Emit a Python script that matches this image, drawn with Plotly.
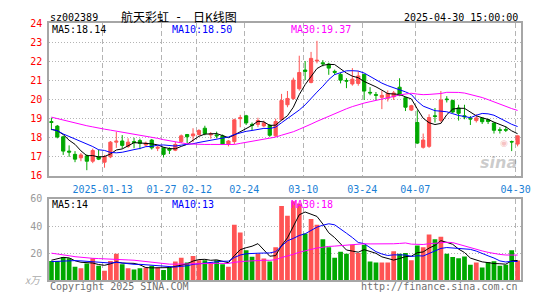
import numpy as np
import plotly.graph_objects as go

# ---------------- data ----------------
dates = ["2024-12-30", "2024-12-31",
         "2025-01-02", "2025-01-03", "2025-01-06", "2025-01-07", "2025-01-08", "2025-01-09", "2025-01-10",
         "2025-01-13", "2025-01-14", "2025-01-15", "2025-01-16", "2025-01-17", "2025-01-20", "2025-01-21",
         "2025-01-22", "2025-01-23", "2025-01-24", "2025-01-27",
         "2025-02-05", "2025-02-06", "2025-02-07", "2025-02-10", "2025-02-11", "2025-02-12", "2025-02-13",
         "2025-02-14", "2025-02-17", "2025-02-18", "2025-02-19", "2025-02-20", "2025-02-21", "2025-02-24",
         "2025-02-25", "2025-02-26", "2025-02-27", "2025-02-28",
         "2025-03-03", "2025-03-04", "2025-03-05", "2025-03-06", "2025-03-07", "2025-03-10", "2025-03-11",
         "2025-03-12", "2025-03-13", "2025-03-14", "2025-03-17", "2025-03-18", "2025-03-19", "2025-03-20",
         "2025-03-21", "2025-03-24", "2025-03-25", "2025-03-26", "2025-03-27", "2025-03-28", "2025-03-31",
         "2025-04-01", "2025-04-02", "2025-04-03", "2025-04-07", "2025-04-08", "2025-04-09", "2025-04-10",
         "2025-04-11", "2025-04-14", "2025-04-15", "2025-04-16", "2025-04-17", "2025-04-18", "2025-04-21",
         "2025-04-22", "2025-04-23", "2025-04-24", "2025-04-25", "2025-04-28", "2025-04-29", "2025-04-30"]

opens = [18.85, 18.61, 18.05, 17.30, 17.13, 16.95, 17.05, 16.77, 17.00, 16.72,
         17.00, 17.77, 17.83, 17.55, 17.80, 17.85, 17.62, 17.88, 17.45, 17.47,
         17.42, 17.35, 17.80, 18.17, 18.10, 18.17, 18.50, 18.15, 18.15, 18.10,
         17.67, 17.80, 19.00, 19.15, 18.70, 18.70, 18.62, 18.65, 18.10, 18.95,
         19.73, 20.06, 20.57, 21.55, 20.90, 22.02, 21.93, 21.86, 21.48, 21.32,
         21.00, 20.82, 20.85, 21.32, 20.38, 20.26, 20.12, 20.07, 20.15, 20.65,
         20.10, 19.45, 18.80, 17.50, 17.55, 19.15, 18.90, 20.03, 19.95, 19.56,
         19.15, 19.01, 18.90, 19.03, 18.95, 18.77, 18.42, 18.43, 17.80, 17.67]
highs = [19.05, 18.67, 18.10, 17.60, 17.30, 17.20, 17.13, 17.43, 17.38, 17.10,
         17.83, 18.30, 18.14, 17.97, 18.00, 17.95, 17.80, 17.93, 17.58, 17.50,
         17.50, 17.78, 18.17, 18.20, 18.50, 18.45, 18.63, 18.30, 18.32, 18.17,
         17.88, 19.00, 19.20, 19.20, 18.80, 19.05, 18.90, 18.72, 19.00, 20.30,
         20.45, 21.15, 22.30, 22.02, 22.50, 23.08, 22.07, 21.93, 21.57, 21.39,
         21.12, 21.65, 21.49, 21.35, 20.65, 20.40, 20.48, 20.48, 20.45, 21.12,
         20.15, 19.73, 19.44, 18.22, 19.23, 19.56, 20.45, 20.18, 20.00, 19.73,
         19.73, 19.14, 19.23, 19.05, 19.00, 18.80, 18.55, 18.60, 17.85, 18.12]
lows = [18.40, 17.97, 17.10, 17.00, 16.72, 16.77, 16.30, 16.67, 16.83, 16.43,
        16.93, 17.47, 17.43, 17.47, 17.45, 17.40, 17.55, 17.38, 17.30, 16.97,
        17.15, 17.30, 17.72, 17.72, 17.77, 18.12, 18.13, 17.95, 17.97, 17.63,
        17.55, 17.67, 18.55, 18.67, 18.40, 18.55, 18.55, 18.05, 18.05, 18.90,
        19.60, 19.98, 20.47, 21.02, 20.85, 21.90, 21.74, 21.30, 21.29, 20.85,
        20.60, 20.73, 20.73, 19.98, 20.23, 19.98, 19.50, 19.90, 19.98, 20.18,
        19.40, 19.40, 17.67, 17.43, 17.47, 18.80, 18.80, 19.85, 19.28, 18.90,
        18.97, 18.67, 18.80, 18.72, 18.72, 18.22, 18.22, 18.30, 17.30, 17.55]
closes = [18.80, 18.04, 17.30, 17.25, 16.88, 17.10, 16.77, 17.33, 16.88, 17.00,
          17.77, 17.82, 17.60, 17.77, 17.75, 17.70, 17.72, 17.47, 17.50, 17.13,
          17.35, 17.65, 18.10, 18.05, 18.20, 18.38, 18.22, 18.20, 18.10, 17.67,
          17.83, 18.94, 19.05, 18.78, 18.65, 18.90, 18.78, 18.13, 18.85, 19.95,
          20.06, 21.02, 21.42, 21.48, 22.16, 22.06, 21.88, 21.65, 21.43, 21.02,
          20.97, 21.07, 21.24, 20.45, 20.35, 20.23, 20.22, 20.32, 20.35, 20.23,
          19.60, 19.68, 17.72, 17.88, 19.06, 19.12, 19.98, 20.00, 19.35, 19.28,
          19.10, 18.98, 19.04, 18.84, 18.85, 18.39, 18.39, 18.40, 17.78, 18.10]
volumes = [14.3, 14.3, 17.1, 16.2, 10.0, 8.8, 12.4, 16.2, 10.7, 7.1,
           14.3, 19.5, 11.9, 8.8, 7.9, 8.8, 9.5, 10.7, 9.5, 7.6,
           9.5, 13.8, 16.7, 13.1, 17.9, 14.8, 14.8, 13.1, 14.8, 11.9,
           10.0, 40.9, 35.2, 22.1, 17.4, 19.5, 16.0, 13.8, 24.3, 54.8,
           47.6, 58.3, 56.7, 34.5, 45.2, 40.9, 30.2, 24.3, 16.7, 21.0,
           19.5, 26.2, 20.2, 26.2, 13.8, 13.1, 13.1, 13.1, 21.4, 19.5,
           20.2, 14.8, 25.7, 24.3, 33.8, 30.2, 32.1, 19.5, 17.1, 16.2,
           17.6, 11.5, 13.2, 9.4, 13.5, 14.1, 10.8, 11.5, 22.1, 14.6]

# moving-average values visible before enough bars exist in the window
ma5_lead = [18.44, 18.37, 18.17, 17.87]
ma10_lead = [18.44, 18.37, 18.20, 18.07, 17.95, 17.84, 17.70, 17.54, 17.37]
ma30_lead = [19.08, 19.00, 18.93, 18.85, 18.78, 18.70, 18.63, 18.57, 18.50, 18.45,
             18.40, 18.35, 18.30, 18.25, 18.20, 18.15, 18.09, 18.02, 17.97, 17.90,
             17.84, 17.77, 17.72, 17.68, 17.67, 17.65, 17.65, 17.65, 17.65]
vma5_lead = [14.8, 16.0, 16.9, 16.5]
vma10_lead = [13.8, 14.0, 14.3, 14.5, 14.5, 14.3, 14.0, 13.6, 13.3]
vma30_lead = [20.0, 19.5, 19.0, 18.1, 17.4, 16.9, 16.7, 16.2, 16.0, 15.7,
              15.7, 15.5, 15.2, 15.0, 14.8, 14.3, 13.8, 13.3, 12.4, 11.9,
              11.9, 11.9, 11.9, 12.0, 12.1, 12.2, 12.3, 12.4, 12.5]

tick_dates = ["2025-01-13", "2025-01-27", "2025-02-12", "2025-02-24",
              "2025-03-10", "2025-03-24", "2025-04-07", "2025-04-30"]
tick_labels = ["2025-01-13", "01-27", "02-12", "02-24", "03-10", "03-24", "04-07", "04-30"]
price_ticks = [16, 17, 18, 19, 20, 21, 22, 23, 24]
vol_ticks = [20, 40, 60]

# ---------------- helpers ----------------
def moving_avg(vals, n, lead):
    v = np.asarray(vals, float)
    out = np.empty(len(v))
    out[:n - 1] = lead
    out[n - 1:] = np.convolve(v, np.ones(n) / n, mode="valid")
    return out

ma5 = moving_avg(closes, 5, ma5_lead)
ma10 = moving_avg(closes, 10, ma10_lead)
ma30 = moving_avg(closes, 30, ma30_lead)
vma5 = moving_avg(volumes, 5, vma5_lead)
vma10 = moving_avg(volumes, 10, vma10_lead)
vma30 = moving_avg(volumes, 30, vma30_lead)

W, H = 545, 300
L, R = 50, 530
MT, MB = 18, 177
VT, VB = 201, 285.7

def px(v):
    return v / W

def py(v):
    return 1 - v / H

RED = "#ff5454"
GREEN = "#00a800"
BLUE = "#0000ff"
MAG = "#ff00ff"
GRID = "#b4b4b4"
BORDER = "#a6a6a6"
MONO = "DejaVu Sans Mono"
CJK = "Noto Sans CJK SC"

x = np.arange(len(dates))
tickpos = [dates.index(d) - 0.33 for d in tick_dates]
xr = [-0.38, len(dates) - 0.38]

fig = go.Figure()
fig.add_trace(go.Candlestick(
    x=x, open=opens, high=highs, low=lows, close=closes,
    increasing=dict(line=dict(color=RED, width=1), fillcolor=RED),
    decreasing=dict(line=dict(color=GREEN, width=1), fillcolor=GREEN),
    whiskerwidth=0, hoverinfo="skip", xaxis="x", yaxis="y"))
for arr, col in [(ma5, "black"), (ma10, BLUE), (ma30, MAG)]:
    fig.add_trace(go.Scatter(x=x, y=arr, mode="lines", line=dict(color=col, width=1),
                             hoverinfo="skip", xaxis="x", yaxis="y"))

vol_colors = [RED if c > o else GREEN for o, c in zip(opens, closes)]
fig.add_trace(go.Bar(x=x, y=volumes, width=0.8,
                     marker=dict(color=vol_colors, line=dict(width=0)),
                     hoverinfo="skip", xaxis="x2", yaxis="y2"))
for arr, col in [(vma5, "black"), (vma10, BLUE), (vma30, MAG)]:
    fig.add_trace(go.Scatter(x=x, y=arr, mode="lines", line=dict(color=col, width=1),
                             hoverinfo="skip", xaxis="x2", yaxis="y2"))

axis_common = dict(showline=True, mirror=True, linecolor=BORDER, linewidth=2,
                   zeroline=False, ticks="", fixedrange=True)

fig.update_layout(
    width=W, height=H, margin=dict(l=0, r=0, t=0, b=0), autosize=False,
    paper_bgcolor="white", plot_bgcolor="white", showlegend=False,
    boxgap=0.22, bargap=0.2,
    xaxis=dict(domain=[px(L), px(R)], range=xr, anchor="y",
               tickmode="array", tickvals=tickpos, ticktext=tick_labels,
               tickfont=dict(family=MONO, size=10, color="#1b7fd6"),
               ticklabelstandoff=3,
               showgrid=True, gridcolor=GRID, gridwidth=1, griddash="5px,3px",
               rangeslider=dict(visible=False), **axis_common),
    yaxis=dict(domain=[py(MB), py(MT)], range=[16, 24], anchor="x",
               tickmode="array", tickvals=price_ticks, ticktext=[str(t) for t in price_ticks],
               tickfont=dict(family=MONO, size=10, color="#ff0000"),
               ticklabelstandoff=3,
               showgrid=True, gridcolor=GRID, gridwidth=1, griddash="1px,2px", **axis_common),
    xaxis2=dict(domain=[px(L), px(R)], range=xr, anchor="y2",
                tickmode="array", tickvals=tickpos, showticklabels=False,
                showgrid=True, gridcolor=GRID, gridwidth=1, griddash="5px,3px", **axis_common),
    yaxis2=dict(domain=[py(VB), py(VT)], range=[0, 60], anchor="x2",
                tickmode="array", tickvals=vol_ticks, ticktext=[str(t) for t in vol_ticks],
                tickfont=dict(family=MONO, size=10, color="#999999"),
                ticklabelstandoff=3,
                showgrid=True, gridcolor=GRID, gridwidth=1, griddash="1px,2px", **axis_common),
)

def txt(xp, yp, s, color="black", anchor="left", size=10, family=MONO, **kw):
    fig.add_annotation(x=px(xp), y=py(yp), xref="paper", yref="paper", text=s,
                       showarrow=False, xanchor=anchor, yanchor="middle",
                       font=dict(family=family, size=size, color=color), **kw)

# header
txt(49, 11.5, "sz002389")
txt(121, 11, "航天彩虹", size=12, family=CJK)
txt(181, 11.5, "-", size=12, family=MONO, anchor="center")
txt(194, 11, "日K线图", size=12, family=CJK)
txt(529, 11.5, "2025-04-30 15:00:00", anchor="right")
# MA legends (main)
txt(51, 24.5, "MA5:18.14", "black")
txt(173, 24.5, "MA10:18.50", BLUE)
txt(294, 24.5, "MA30:19.37", MAG)
# MA legends (volume)
txt(51, 206.5, "MA5:14", "black")
txt(173, 206.5, "MA10:13", BLUE)
txt(294, 206.5, "MA30:18", MAG)
# unit label
txt(45, 285, "<i>x万</i>", "#aaaaaa", anchor="right", family=CJK)
# footer
txt(49, 292.5, "Copyright 2025 SINA.COM", "#707070")
txt(529, 292.5, "http://finance.sina.com.cn", "#707070", anchor="right")
# watermark
txt(512, 143, "◉", "rgba(235,120,120,0.45)", anchor="center", size=9, family="DejaVu Sans")
txt(528, 163, "<b><i>sina</i></b>", "rgba(140,140,140,0.45)", anchor="right", size=16,
    family="DejaVu Sans")

fig.write_html("out.html")
